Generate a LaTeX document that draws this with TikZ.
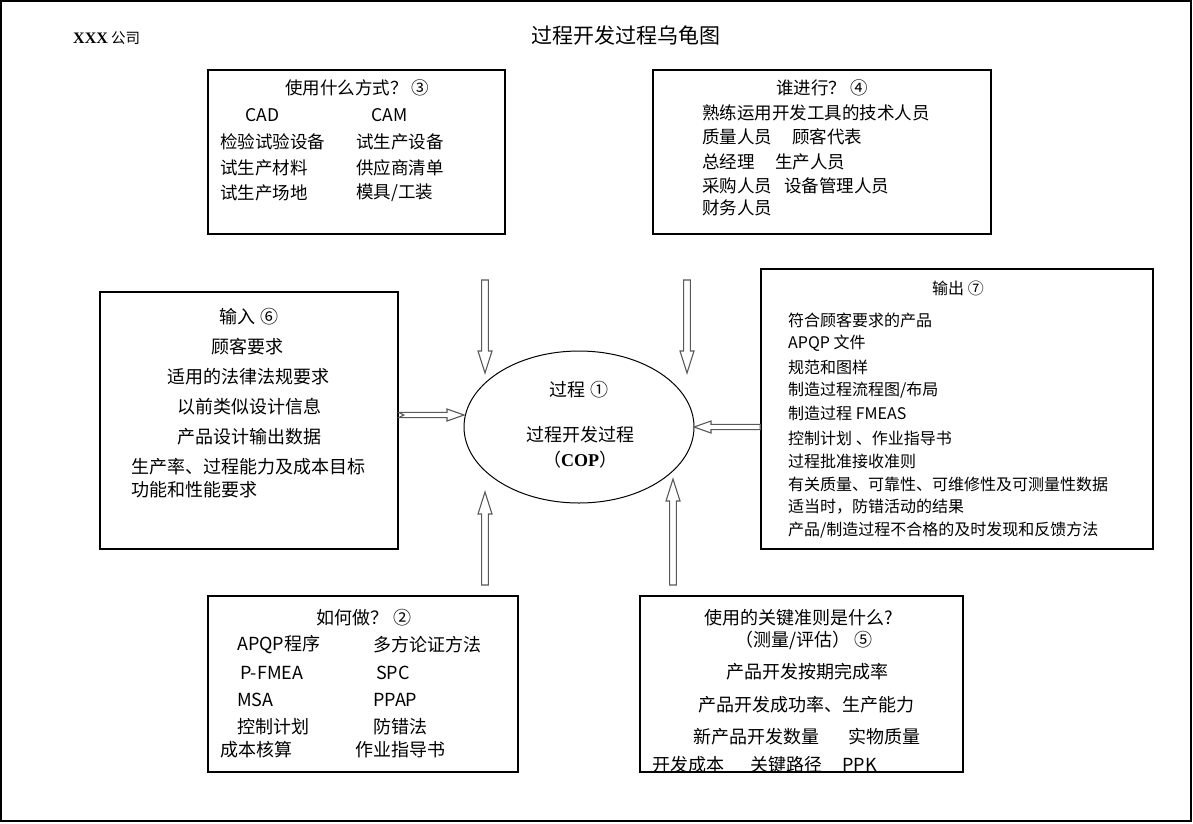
\documentclass[tikz,border=0pt]{standalone}
\usepackage{fontspec}
\setmainfont{Noto Sans CJK SC}
\newfontfamily\tms{Liberation Serif}
\usetikzlibrary{calc,shapes.geometric}
% hollow arrow: #1 start, #2 tip, #3 shaft half width, #4 head half width, #5 head length, #6 tail notch
\newcommand\harrow[6]{%
  \path ($(#2)!#5!(#1)$) coordinate (hb);
  \draw[hollowarrow] ($(#1)!#3!90:(#2)$) -- ($(hb)!#3!-90:(#1)$) -- ($(hb)!#4!-90:(#1)$) -- (#2)
    -- ($(hb)!#4!90:(#1)$) -- ($(hb)!#3!90:(#1)$) -- ($(#1)!#3!-90:(#2)$) -- ($(#1)!#6!(#2)$) -- cycle;
}
\begin{document}
\begin{tikzpicture}[x=1pt,y=-1pt,
  box/.style={draw, line width=1.6pt, inner sep=0pt},
  hollowarrow/.style={draw=black!65, line width=1.1pt, fill=white, line join=miter},
  txt/.style={inner sep=0pt, anchor=west},
  ctr/.style={inner sep=0pt},
  fA/.style={font=\fontsize{17.5pt}{17.5pt}\selectfont},
  fB/.style={font=\fontsize{18pt}{18pt}\selectfont},
  fC/.style={font=\fontsize{16pt}{16pt}\selectfont}]
\useasboundingbox (0,0) rectangle (1193,823);
\fill[white] (0,0) rectangle (1193,823);
\draw[line width=1.5pt] (1,1) rectangle (1191,821);

% titles
\node[txt, font=\fontsize{14.5pt}{14.5pt}\selectfont] (co) at (73,38) {{\tms\bfseries\fontsize{16pt}{16pt}\selectfont XXX} 公司};
\node[ctr, font=\fontsize{21pt}{21pt}\selectfont] (title) at (626,36) {过程开发过程乌龟图};

% boxes
\node[box, minimum width=297pt, minimum height=164pt] (tl) at (356.5,152) {};
\node[box, minimum width=338pt, minimum height=164pt] (tr) at (822,152) {};
\node[box, minimum width=298pt, minimum height=257pt] (lb) at (249,420.5) {};
\node[box, minimum width=392pt, minimum height=280pt] (rb) at (957,409) {};
\node[box, minimum width=310pt, minimum height=176pt] (bl) at (363,684) {};
\node[box, minimum width=323pt, minimum height=176pt] (br) at (801.5,684) {};
\node[draw, ellipse, line width=1pt, minimum width=230pt, minimum height=152pt, inner sep=0pt] (proc) at (579,427) {};

% top-left box
\node[ctr, fA] (tl0) at (357,88) {使用什么方式？ ③};
\node[txt, fA] (tl1a) at (245,115) {CAD};
\node[txt, fA] (tl1b) at (371,115) {CAM};
\node[txt, fA] (tl2a) at (220,142) {检验试验设备};
\node[txt, fA] (tl2b) at (356,142) {试生产设备};
\node[txt, fA] (tl3a) at (220,168) {试生产材料};
\node[txt, fA] (tl3b) at (356,168) {供应商清单};
\node[txt, fA] (tl4a) at (220,193) {试生产场地};
\node[txt, fA] (tl4b) at (356,193) {模具/工装};

% top-right box
\node[ctr, fA] (tr0) at (822,88) {谁进行？ ④};
\node[txt, fA] (tr1) at (702,113) {熟练运用开发工具的技术人员};
\node[txt, fA] (tr2a) at (702,137) {质量人员};
\node[txt, fA] (tr2b) at (792,137) {顾客代表};
\node[txt, fA] (tr3a) at (702,162) {总经理};
\node[txt, fA] (tr3b) at (775,162) {生产人员};
\node[txt, fA] (tr4a) at (702,186) {采购人员};
\node[txt, fA] (tr4b) at (784,186) {设备管理人员};
\node[txt, fA] (tr5) at (702,208) {财务人员};

% left box
\node[ctr, fB] (lb0) at (249,317) {输入 ⑥};
\node[ctr, fB] (lb1) at (247,347) {顾客要求};
\node[ctr, fB] (lb2) at (248,377) {适用的法律法规要求};
\node[ctr, fB] (lb3) at (249,407) {以前类似设计信息};
\node[ctr, fB] (lb4) at (249,437) {产品设计输出数据};
\node[txt, fB] (lb5) at (131,467) {生产率、过程能力及成本目标};
\node[txt, fB] (lb6) at (131,490) {功能和性能要求};

% right box
\node[ctr, fC] (rb0) at (958,288) {输出 ⑦};
\node[txt, fC] (rb1) at (788,320) {符合顾客要求的产品};
\node[txt, fC] (rb2) at (788,343) {APQP 文件};
\node[txt, fC] (rb3) at (788,367) {规范和图样};
\node[txt, fC] (rb4) at (788,390) {制造过程流程图/布局};
\node[txt, fC] (rb5) at (788,413) {制造过程 FMEAS};
\node[txt, fC] (rb6) at (788,438) {控制计划 、作业指导书};
\node[txt, fC] (rb7) at (788,461) {过程批准接收准则};
\node[txt, fC] (rb8) at (788,484) {有关质量、可靠性、可维修性及可测量性数据};
\node[txt, fC] (rb9) at (788,507) {适当时，防错活动的结果};
\node[txt, fC] (rb10) at (788,530) {产品/制造过程不合格的及时发现和反馈方法};

% ellipse text
\node[ctr, fB] (p0) at (579,390) {过程 ①};
\node[ctr, fB] (p1) at (580,435) {过程开发过程};
\node[ctr, fB] (p2) at (580,460) {（{\tms\bfseries COP}）};

% bottom-left box
\node[ctr, fB] (bl0) at (364,618) {如何做？ ②};
\node[txt, fB] (bl1a) at (237,645) {APQP程序};
\node[txt, fB] (bl1b) at (373,645) {多方论证方法};
\node[txt, fB] (bl2a) at (240,673) {P-FMEA};
\node[txt, fB] (bl2b) at (376,673) {SPC};
\node[txt, fB] (bl3a) at (237,700) {MSA};
\node[txt, fB] (bl3b) at (373,700) {PPAP};
\node[txt, fB] (bl4a) at (237,727) {控制计划};
\node[txt, fB] (bl4b) at (373,727) {防错法};
\node[txt, fB] (bl5a) at (220,750) {成本核算};
\node[txt, fB] (bl5b) at (355,750) {作业指导书};

% bottom-right box
\node[ctr, fB] (br0) at (799,618) {使用的关键准则是什么?};
\node[ctr, fB] (br1) at (804,640) {（测量/评估） ⑤};
\node[ctr, fB] (br2) at (807,672) {产品开发按期完成率};
\node[ctr, fB] (br3) at (806,705) {产品开发成功率、生产能力};
\node[txt, fB] (br4a) at (693,737) {新产品开发数量};
\node[txt, fB] (br4b) at (848,737) {实物质量};
\begin{scope}
\clip (640,596) rectangle (963,771);
\node[txt, fB] (br5a) at (652,765) {开发成本};
\node[txt, fB] (br5b) at (750,765) {关键路径};
\node[txt, fB] (br5c) at (842,765) {PPK};
\end{scope}

% arrows
\coordinate (a1s) at (485,280); \coordinate (a1e) at (485,373);
\coordinate (a2s) at (687,280); \coordinate (a2e) at (687,373);
\coordinate (a3s) at (lb.east |- 0,415); \coordinate (a3e) at (464,415);
\coordinate (a4s) at (rb.west |- 0,427); \coordinate (a4e) at (694,427);
\coordinate (a5s) at (485,585); \coordinate (a5e) at (485,492);
\coordinate (a6s) at (673,585); \coordinate (a6e) at (673,479);
\harrow{a1s}{a1e}{3.4pt}{7pt}{22pt}{0pt}
\harrow{a2s}{a2e}{3.4pt}{7pt}{22pt}{0pt}
\harrow{a3s}{a3e}{2.6pt}{6pt}{17pt}{5pt}
\harrow{a4s}{a4e}{2.6pt}{6pt}{17pt}{0pt}
\harrow{a5s}{a5e}{3.4pt}{7pt}{22pt}{0pt}
\harrow{a6s}{a6e}{3.4pt}{7pt}{22pt}{0pt}
\end{tikzpicture}
\end{document}
